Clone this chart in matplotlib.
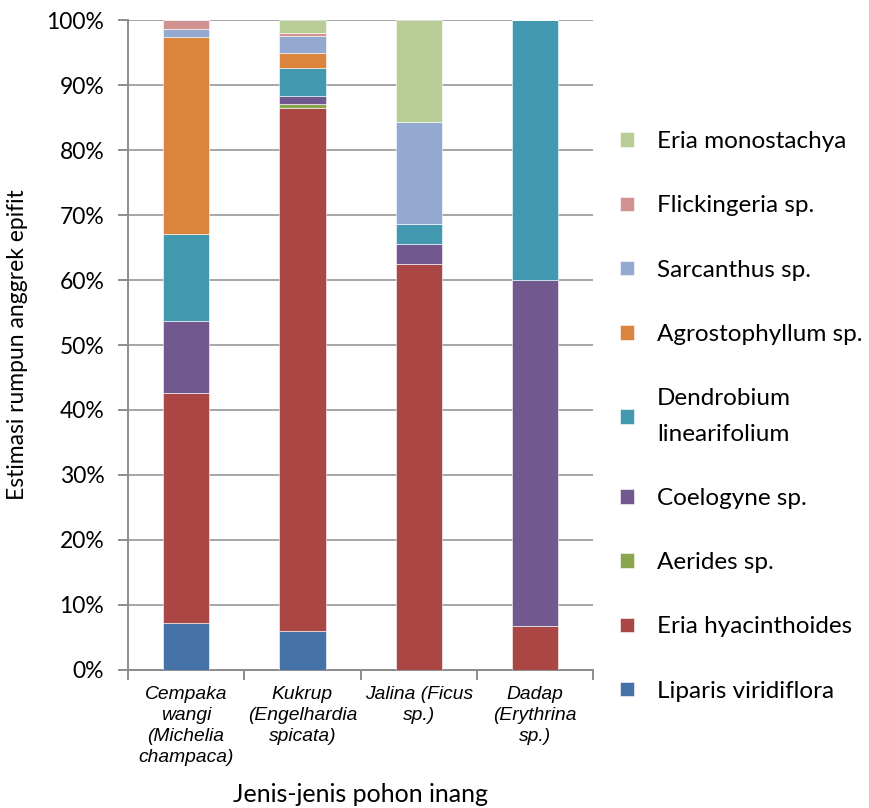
import matplotlib.pyplot as plt
import numpy as np

hosts = ['Cempaka\nwangi\n(Michelia\nchampaca)', 'Kukrup\n(Engelhardia\nspicata)',
         'Jalina (Ficus\nsp.)', 'Dadap\n(Erythrina\nsp.)']

species = ['Liparis viridiflora', 'Eria hyacinthoides', 'Aerides sp.', 'Coelogyne sp.',
           'Dendrobium\nlinearifolium', 'Agrostophyllum sp.', 'Sarcanthus sp.',
           'Flickingeria sp.', 'Eria monostachya']
colors = ['#4572A7', '#AA4643', '#89A54E', '#71588F', '#4198AF',
          '#DB843D', '#93A9CF', '#D19392', '#B9CD96']

# percent of clumps per host tree (columns follow hosts)
liparis = [7.2, 6.0, 0, 0]
eria_hyac = [35.4, 80.5, 62.5, 6.7]
aerides = [0, 0.6, 0, 0]
coelogyne = [11.1, 1.3, 3.1, 53.3]
dendrobium = [13.4, 4.3, 3.1, 40.0]
agrosto = [30.3, 2.3, 0, 0]
sarcanthus = [1.3, 2.5, 15.6, 0]
flickingeria = [1.3, 0.6, 0, 0]
eria_mono = [0, 1.9, 15.7, 0]

series = [liparis, eria_hyac, aerides, coelogyne, dendrobium,
          agrosto, sarcanthus, flickingeria, eria_mono]

fig = plt.figure(figsize=(8.7, 8.08), dpi=100)
ax = fig.add_axes([0.147, 0.171, 0.535, 0.804])

x = np.arange(len(hosts))
bottom = np.zeros(len(hosts))
for name, vals, c in zip(species, series, colors):
    ax.bar(x, vals, 0.4, bottom=bottom, color=c, label=name,
           edgecolor='white', linewidth=0.4, zorder=3)
    bottom += np.array(vals)

ax.set_xlim(-0.5, len(hosts) - 0.5)
ax.set_ylim(0, 100)
ax.set_yticks(np.arange(0, 101, 10))
ax.set_yticklabels([f'{v}%' for v in range(0, 101, 10)], family='Lato', fontsize=16.5)
ax.yaxis.grid(True, color='#A6A6A6', linewidth=1.4, zorder=0)
for s in ['top', 'right']:
    ax.spines[s].set_visible(False)
for s in ['left', 'bottom']:
    ax.spines[s].set_color('#8C8C8C')
    ax.spines[s].set_linewidth(1.4)
ax.tick_params(axis='y', length=7, width=1.4, color='#8C8C8C', pad=10)

ax.set_xticks(x)
ax.set_xticklabels(hosts, family='Liberation Sans', style='italic', fontsize=13.9,
                   linespacing=1.3, va='top')
ax.tick_params(axis='x', length=0, pad=12)
ax.set_xticks(np.arange(-0.5, len(hosts)), minor=True)
ax.tick_params(axis='x', which='minor', length=7, width=1.4, color='#8C8C8C')

ax.set_xlabel('Jenis-jenis pohon inang', family='Lato', fontsize=18, labelpad=12)
ax.set_ylabel('Estimasi rumpun anggrek epifit', family='Lato', fontsize=16.5)
ax.yaxis.set_label_coords(-0.215, 0.5)

h, l = ax.get_legend_handles_labels()
leg = ax.legend(h[::-1], l[::-1], loc='center left', bbox_to_anchor=(1.011, 0.39),
                frameon=False, prop={'family': 'Lato', 'size': 17.5},
                handlelength=0.55, handleheight=0.55, handletextpad=0.95,
                labelspacing=1.78)
for t in leg.get_texts():
    t.set_linespacing(1.85)

fig.savefig('out.png', dpi=100)
